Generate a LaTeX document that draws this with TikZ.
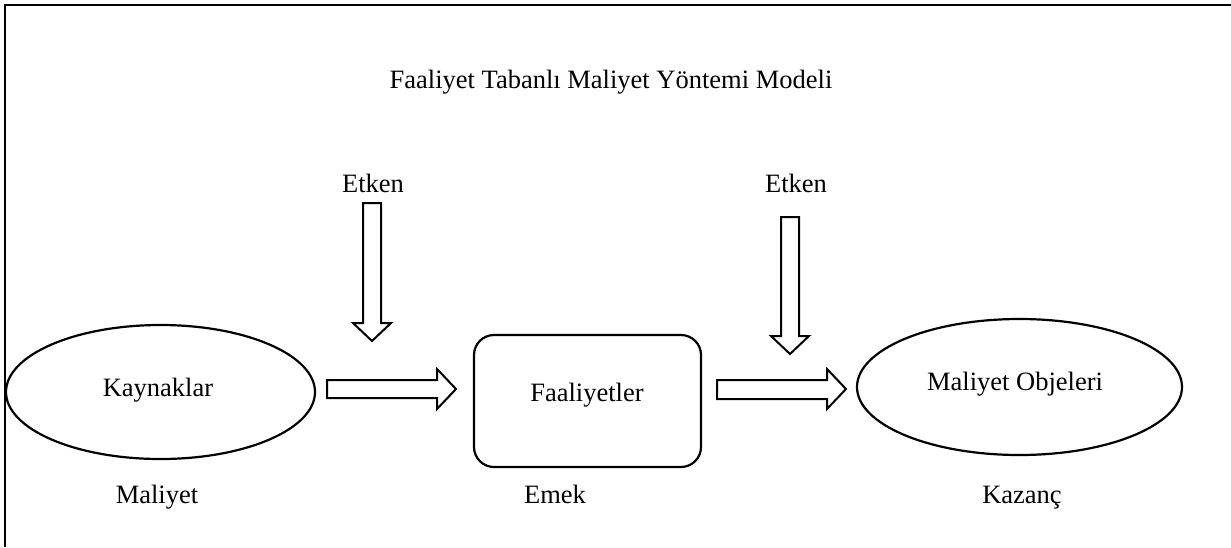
\documentclass[tikz,border=0pt]{standalone}
\usepackage{fontspec}
\setmainfont{Liberation Serif}
\usetikzlibrary{shapes.geometric}
\begin{document}
\begin{tikzpicture}[x=1pt,y=-1pt,
  lbl/.style={anchor=base,inner sep=0pt,font=\fontsize{26.5}{31}\selectfont},
  shapeline/.style={draw,line width=2.2pt},
  blockarrow/.style={draw,line width=2pt,line join=miter,fill=white},
  frameline/.style={line width=2.5pt}]
\useasboundingbox (0,0) rectangle (1231,547);
% frame (top and left)
\coordinate (ftr) at (1231,5);
\coordinate (ftl) at (5,5);
\coordinate (fbl) at (5,547);
\draw[frameline] (ftr) -- (ftl) -- (fbl);
% shapes
\node[ellipse,shapeline,minimum width=309pt,minimum height=134pt,inner sep=0pt] (kay) at (160.5,392) {};
\node[rectangle,rounded corners=20pt,shapeline,minimum width=227pt,minimum height=132pt,inner sep=0pt] (faal) at (587.5,401) {};
\node[ellipse,shapeline,minimum width=325pt,minimum height=136pt,inner sep=0pt] (obj) at (1019.5,387) {};
% texts
\node[lbl] (title) at (611,88) {Faaliyet Tabanlı Maliyet Yöntemi Modeli};
\node[lbl] (etk1) at (373,192) {Etken};
\node[lbl] (etk2) at (796,192) {Etken};
\node[lbl] (kayt) at (158,396) {Kaynaklar};
\node[lbl] (faalt) at (587,401) {Faaliyetler};
\node[lbl] (objt) at (1015,390) {Maliyet Objeleri};
\node[lbl] (mal) at (157,503) {Maliyet};
\node[lbl] (emek) at (555,503) {Emek};
\node[lbl] (kaz) at (1022,503) {Kazanç};
% block arrows
\draw[blockarrow] (327,380) -- (437,380) -- (437,369) -- (456,389) -- (437,409) -- (437,398) -- (327,398) -- cycle;
\draw[blockarrow] (717,380) -- (827,380) -- (827,369) -- (846,389) -- (827,409) -- (827,399) -- (717,399) -- cycle;
\draw[blockarrow] (363,203) -- (381,203) -- (381,323) -- (391,323) -- (372,341) -- (353,323) -- (363,323) -- cycle;
\draw[blockarrow] (781,217) -- (799,217) -- (799,336) -- (809,336) -- (790,354) -- (771,336) -- (781,336) -- cycle;
\end{tikzpicture}
\end{document}
